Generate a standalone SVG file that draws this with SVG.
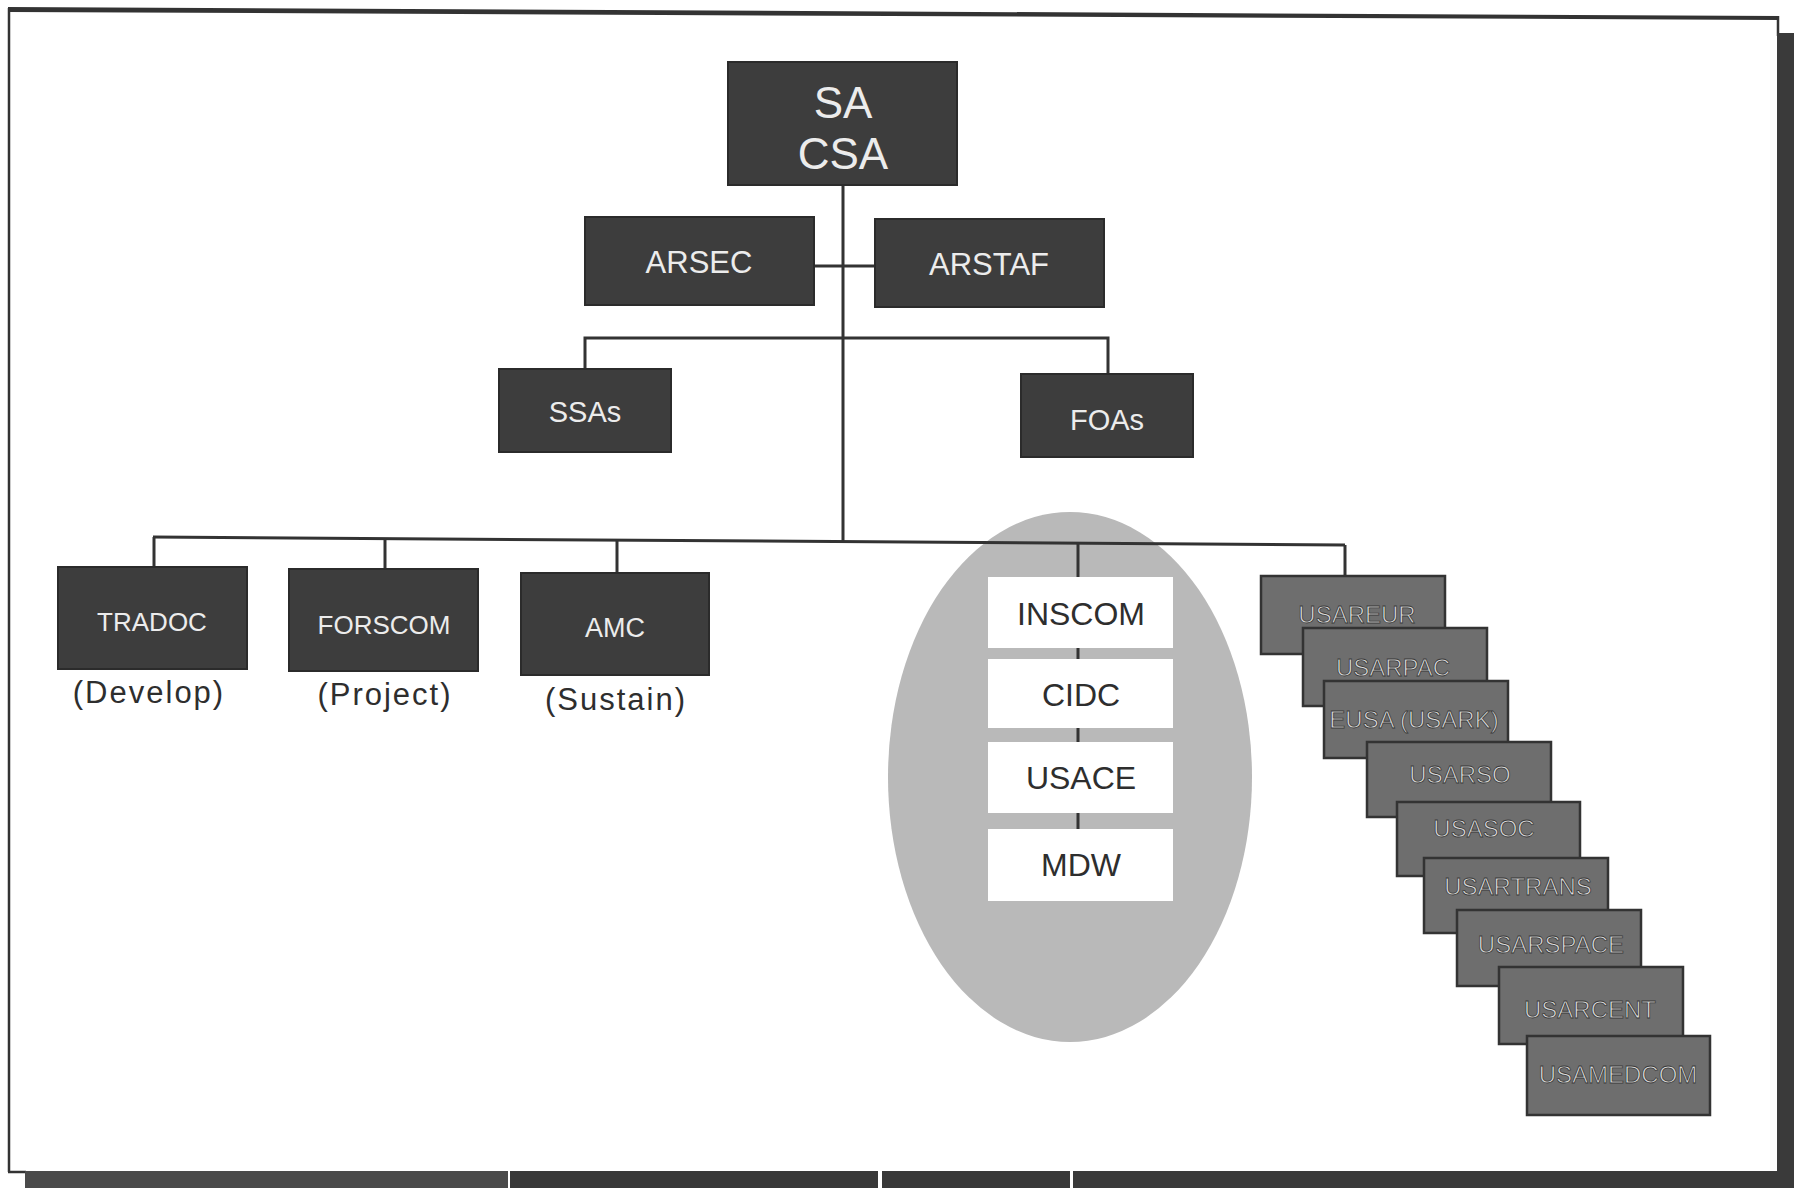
<svg xmlns="http://www.w3.org/2000/svg" width="1798" height="1196" viewBox="0 0 1798 1196">
<defs>
<style>
.dark{fill:#3d3d3d;stroke:#2b2b2b;stroke-width:2}
.casc{fill:#6e6e6e;stroke:#333;stroke-width:2.5}
.wbox{fill:#ffffff}
.t{font-family:"Liberation Sans",Arial,sans-serif;text-anchor:middle}
.wt{fill:#ececec}
.lab{fill:#2e2e2e;font-size:31px;letter-spacing:2px}
.ct{fill:#dcdcdc;stroke:#3a3a3a;stroke-width:0.8;font-size:24px}
.bt{fill:#2e2e2e;font-size:32px}
.ln{stroke:#333;stroke-width:3;fill:none}
</style>
</defs>
<rect width="1798" height="1196" fill="#ffffff"/>
<g id="frame">
<polygon points="8,7 1779,16 1779,20 8,12" fill="#333"/>
<line x1="9" y1="8" x2="9" y2="1172" stroke="#333" stroke-width="2.5"/>
<line x1="8" y1="1172" x2="26" y2="1172" stroke="#333" stroke-width="2.5"/>
<line x1="1778" y1="16" x2="1778" y2="36" stroke="#333" stroke-width="2.5"/>
<rect x="1777" y="33" width="17" height="1155" fill="#3a3a3a"/>
<rect x="25" y="1171" width="483" height="17" fill="#4a4a4a"/>
<rect x="510" y="1171" width="368" height="17" fill="#383838"/>
<rect x="882" y="1171" width="188" height="17" fill="#383838"/>
<rect x="1073" y="1171" width="721" height="17" fill="#3a3a3a"/>
</g>
<g id="ellipse-group">
<ellipse cx="1070" cy="777" rx="182" ry="265" fill="#b9b9b9"/>
</g>
<g id="connectors">
<path class="ln" d="M843,186 V542"/>
<path class="ln" d="M814,266 H875"/>
<path class="ln" d="M585,369 V338 H1108 V374"/>
<path class="ln" d="M153,537 L1345,545"/>
<path class="ln" d="M154,537 V567"/>
<path class="ln" d="M385,539 V569"/>
<path class="ln" d="M617,540 V573"/>
<path class="ln" d="M1078,543 V577"/>
<path class="ln" d="M1345,545 V576"/>
<path class="ln" d="M1078,648 V659 M1078,728 V742 M1078,813 V829"/>
</g>
<g id="n-sa"><rect class="dark" x="728" y="62" width="229" height="123"/>
<text class="t wt" x="843" y="118" font-size="44">SA</text>
<text class="t wt" x="843" y="169" font-size="44">CSA</text></g>
<g id="n-arsec"><rect class="dark" x="585" y="217" width="229" height="88"/>
<text class="t wt" x="699" y="273" font-size="31">ARSEC</text></g>
<g id="n-arstaf"><rect class="dark" x="875" y="219" width="229" height="88"/>
<text class="t wt" x="989" y="275" font-size="31">ARSTAF</text></g>
<g id="n-ssas"><rect class="dark" x="499" y="369" width="172" height="83"/>
<text class="t wt" x="585" y="422" font-size="29">SSAs</text></g>
<g id="n-foas"><rect class="dark" x="1021" y="374" width="172" height="83"/>
<text class="t wt" x="1107" y="430" font-size="29">FOAs</text></g>
<g id="n-tradoc"><rect class="dark" x="58" y="567" width="189" height="102"/>
<text class="t wt" x="152" y="631" font-size="26">TRADOC</text>
<text class="t lab" x="149" y="703">(Develop)</text></g>
<g id="n-forscom"><rect class="dark" x="289" y="569" width="189" height="102"/>
<text class="t wt" x="384" y="634" font-size="26">FORSCOM</text>
<text class="t lab" x="385" y="705">(Project)</text></g>
<g id="n-amc"><rect class="dark" x="521" y="573" width="188" height="102"/>
<text class="t wt" x="615" y="637" font-size="27">AMC</text>
<text class="t lab" x="616" y="710">(Sustain)</text></g>
<g id="n-inscom"><rect class="wbox" x="988" y="577" width="185" height="71"/>
<text class="t bt" x="1081" y="625">INSCOM</text></g>
<g id="n-cidc"><rect class="wbox" x="988" y="659" width="185" height="69"/>
<text class="t bt" x="1081" y="706">CIDC</text></g>
<g id="n-usace"><rect class="wbox" x="988" y="742" width="185" height="71"/>
<text class="t bt" x="1081" y="789">USACE</text></g>
<g id="n-mdw"><rect class="wbox" x="988" y="829" width="185" height="72"/>
<text class="t bt" x="1081" y="876">MDW</text></g>
<g id="n-usareur"><rect class="casc" x="1261" y="576" width="184" height="78"/>
<text class="t ct" x="1357" y="623">USAREUR</text></g>
<g id="n-usarpac"><rect class="casc" x="1303" y="628" width="184" height="78"/>
<text class="t ct" x="1393" y="676">USARPAC</text></g>
<g id="n-eusa"><rect class="casc" x="1324" y="681" width="184" height="77"/>
<text class="t ct" x="1414" y="728">EUSA (USARK)</text></g>
<g id="n-usarso"><rect class="casc" x="1367" y="742" width="184" height="75"/>
<text class="t ct" x="1460" y="783">USARSO</text></g>
<g id="n-usasoc"><rect class="casc" x="1397" y="802" width="183" height="74"/>
<text class="t ct" x="1484" y="837">USASOC</text></g>
<g id="n-usartrans"><rect class="casc" x="1424" y="858" width="184" height="75"/>
<text class="t ct" x="1518" y="895">USARTRANS</text></g>
<g id="n-usarspace"><rect class="casc" x="1457" y="910" width="184" height="76"/>
<text class="t ct" x="1551" y="953">USARSPACE</text></g>
<g id="n-usarcent"><rect class="casc" x="1499" y="967" width="184" height="77"/>
<text class="t ct" x="1590" y="1018">USARCENT</text></g>
<g id="n-usamedcom"><rect class="casc" x="1527" y="1036" width="183" height="79"/>
<text class="t ct" x="1618" y="1083">USAMEDCOM</text></g>
</svg>
